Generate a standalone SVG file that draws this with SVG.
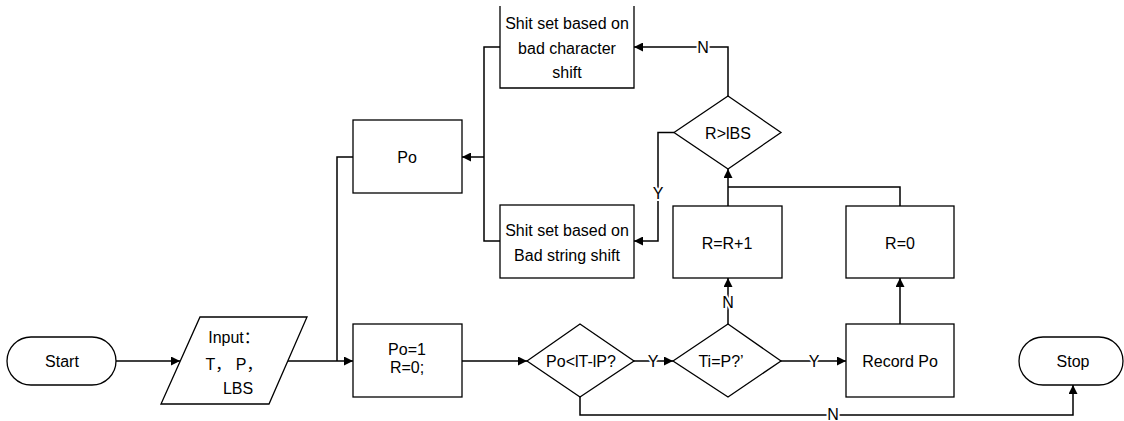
<svg xmlns="http://www.w3.org/2000/svg" width="1124" height="421" viewBox="0 0 1124 421">
  <style>
    .shape { fill: #ffffff; stroke: #000000; stroke-width: 1.3; }
    .edge { fill: none; stroke: #000000; stroke-width: 1.5; }
    .txt { font-family: "Liberation Sans", "Noto Sans CJK SC", sans-serif; font-size: 16px; fill: #000000; text-anchor: middle; }
    .lbl { font-family: "Liberation Sans", sans-serif; font-size: 16px; fill: #000000; text-anchor: middle; stroke: #ffffff; stroke-width: 4px; paint-order: stroke; }
  </style>
  <defs>
    <marker id="arrow" viewBox="0 0 10 10" refX="10" refY="5" markerWidth="10" markerHeight="9" markerUnits="userSpaceOnUse" orient="auto">
      <path d="M0,0 L10,5 L0,10 Z" fill="#000000"/>
    </marker>
  </defs>

  <rect width="1124" height="421" fill="#ffffff"/>

  <!-- connectors -->
  <g id="connectors">
    <path class="edge" d="M116,361 H180" marker-end="url(#arrow)"/>
    <path class="edge" d="M288,361 H353" marker-end="url(#arrow)"/>
    <path class="edge" d="M353,157 H337 V361"/>
    <path class="edge" d="M462,361 H527" marker-end="url(#arrow)"/>
    <path class="edge" d="M634,361 H673" marker-end="url(#arrow)"/>
    <path class="edge" d="M781,361 H846" marker-end="url(#arrow)"/>
    <path class="edge" d="M580,397 V415 H1073 V385" marker-end="url(#arrow)"/>
    <path class="edge" d="M728,324 V278" marker-end="url(#arrow)"/>
    <path class="edge" d="M900,324 V278" marker-end="url(#arrow)"/>
    <path class="edge" d="M728,206 V169" marker-end="url(#arrow)"/>
    <path class="edge" d="M900,206 V187 H728"/>
    <path class="edge" d="M728,96 V47 H634" marker-end="url(#arrow)"/>
    <path class="edge" d="M674,132.5 H658 V241 H634" marker-end="url(#arrow)"/>
    <path class="edge" d="M500,47 H484 V241 H500"/>
    <path class="edge" d="M484,157 H462" marker-end="url(#arrow)"/>
    <text class="lbl" x="653" y="367">Y</text>
    <text class="lbl" x="814" y="367">Y</text>
    <text class="lbl" x="833" y="420" font-size="15px">N</text>
    <text class="lbl" x="728" y="308">N</text>
    <text class="lbl" x="703" y="53">N</text>
    <text class="lbl" x="658" y="199">Y</text>
  </g>

  <!-- nodes -->
  <g id="start">
    <rect class="shape" x="7" y="337" width="109" height="48" rx="24" ry="24"/>
    <text class="txt" x="62" y="367">Start</text>
  </g>

  <g id="input">
    <polygon class="shape" points="200,317 307,317 269,404 161,404"/>
    <text class="txt" x="234" y="343">Input：</text>
    <text class="txt" x="234" y="370">T， P，</text>
    <text class="txt" x="238" y="394">LBS</text>
  </g>

  <g id="init">
    <rect class="shape" x="353" y="324" width="109" height="73"/>
    <text class="txt" x="407" y="355">Po=1</text>
    <text class="txt" x="407" y="373">R=0;</text>
  </g>

  <g id="check-range">
    <polygon class="shape" points="527,361 580,324 634,361 580,397"/>
    <text class="txt" x="581" y="367">Po&lt;lT-lP?</text>
  </g>

  <g id="check-match">
    <polygon class="shape" points="673,361 728,324 781,361 728,397"/>
    <text class="txt" x="721" y="367">Ti=P?’</text>
  </g>

  <g id="record">
    <rect class="shape" x="846" y="324" width="108" height="73"/>
    <text class="txt" x="900" y="367">Record Po</text>
  </g>

  <g id="stop">
    <rect class="shape" x="1019" y="337" width="104" height="48" rx="24" ry="24"/>
    <text class="txt" x="1073" y="367">Stop</text>
  </g>

  <g id="increment">
    <rect class="shape" x="673" y="206" width="109" height="72"/>
    <text class="txt" x="727" y="249">R=R+1</text>
  </g>

  <g id="reset">
    <rect class="shape" x="846" y="206" width="108" height="72"/>
    <text class="txt" x="900" y="249">R=0</text>
  </g>

  <g id="check-lbs">
    <polygon class="shape" points="674,132.5 728,96 781,132.5 728,169"/>
    <text class="txt" x="728" y="139">R&gt;lBS</text>
  </g>

  <g id="bad-char-shift">
    <path class="shape" d="M500,6 V88 H634 V6"/>
    <text class="txt" x="567" y="29">Shit set based on</text>
    <text class="txt" x="567" y="54">bad character</text>
    <text class="txt" x="567" y="78">shift</text>
  </g>

  <g id="bad-string-shift">
    <rect class="shape" x="500" y="205" width="134" height="73"/>
    <text class="txt" x="567" y="236">Shit set based on</text>
    <text class="txt" x="567" y="261">Bad string shift</text>
  </g>

  <g id="position">
    <rect class="shape" x="353" y="120" width="109" height="73"/>
    <text class="txt" x="407" y="163">Po</text>
  </g>
</svg>
